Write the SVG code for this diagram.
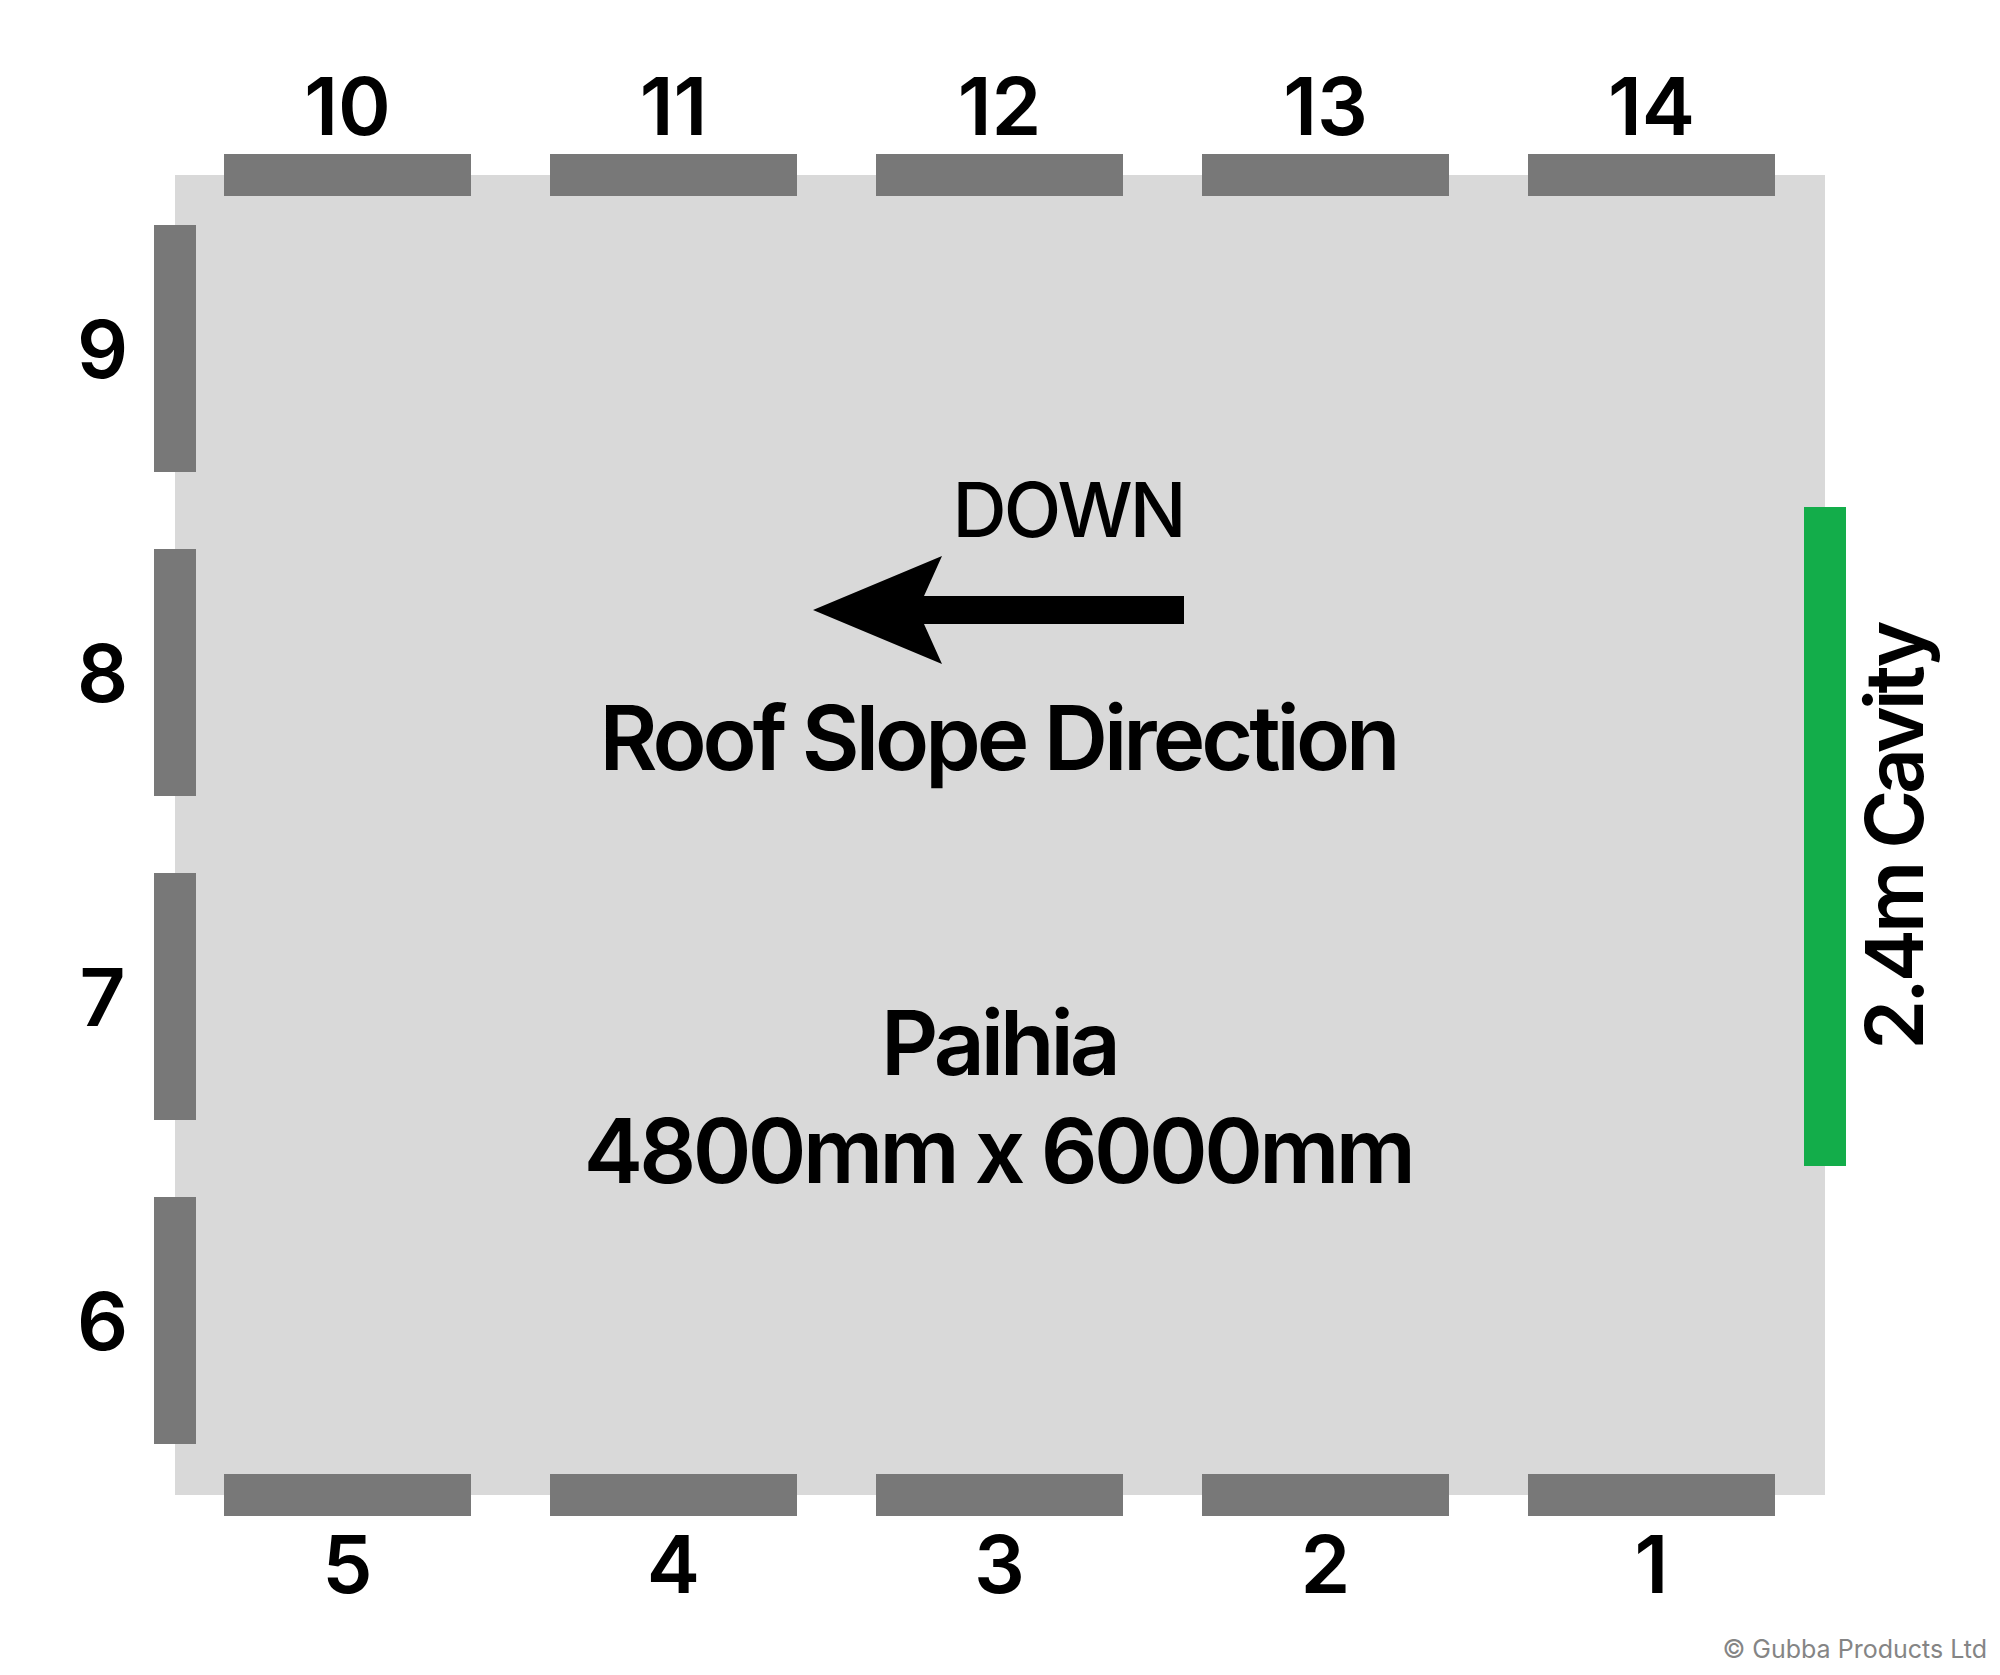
<svg xmlns="http://www.w3.org/2000/svg" width="2000" height="1675" viewBox="0 0 2000 1675">
<style>
.bar{fill:#787878}
.lbl{font-family:Inter,"Liberation Sans",sans-serif;font-weight:600;font-size:80px;fill:#000;text-anchor:middle}
.big{font-family:Inter,"Liberation Sans",sans-serif;font-weight:600;font-size:89px;fill:#000;text-anchor:middle;letter-spacing:-4px}
</style>
<rect width="2000" height="1675" fill="#fff"/>
<g id="roof">
<rect x="175" y="175" width="1650" height="1320" fill="#d9d9d9"/>
</g>
<g id="top-bars">
<g id="b10"><rect class="bar" x="224" y="154" width="247" height="42"/><text class="lbl" x="347.5" y="135">10</text></g>
<g id="b11"><rect class="bar" x="550" y="154" width="247" height="42"/><text class="lbl" x="673.5" y="135">11</text></g>
<g id="b12"><rect class="bar" x="876" y="154" width="247" height="42"/><text class="lbl" x="999.5" y="135">12</text></g>
<g id="b13"><rect class="bar" x="1202" y="154" width="247" height="42"/><text class="lbl" x="1325.5" y="135">13</text></g>
<g id="b14"><rect class="bar" x="1528" y="154" width="247" height="42"/><text class="lbl" x="1651.5" y="135">14</text></g>
</g>
<g id="bottom-bars">
<g id="b5"><rect class="bar" x="224" y="1474" width="247" height="42"/><text class="lbl" x="347.5" y="1593">5</text></g>
<g id="b4"><rect class="bar" x="550" y="1474" width="247" height="42"/><text class="lbl" x="673.5" y="1593">4</text></g>
<g id="b3"><rect class="bar" x="876" y="1474" width="247" height="42"/><text class="lbl" x="999.5" y="1593">3</text></g>
<g id="b2"><rect class="bar" x="1202" y="1474" width="247" height="42"/><text class="lbl" x="1325.5" y="1593">2</text></g>
<g id="b1"><rect class="bar" x="1528" y="1474" width="247" height="42"/><text class="lbl" x="1651.5" y="1593">1</text></g>
</g>
<g id="left-bars">
<g id="b9"><rect class="bar" x="154" y="225" width="42" height="247"/><text class="lbl" x="102.5" y="378">9</text></g>
<g id="b8"><rect class="bar" x="154" y="549" width="42" height="247"/><text class="lbl" x="102.5" y="702">8</text></g>
<g id="b7"><rect class="bar" x="154" y="873" width="42" height="247"/><text class="lbl" x="102.5" y="1026">7</text></g>
<g id="b6"><rect class="bar" x="154" y="1197" width="42" height="247"/><text class="lbl" x="102.5" y="1350">6</text></g>
</g>
<g id="cavity">
<rect x="1804" y="507" width="42" height="659" fill="#13ad4a"/>
<text class="lbl" transform="translate(1923 837) rotate(-90)" x="0" y="0" style="letter-spacing:-4px">2.4m Cavity</text>
</g>
<g id="connectors">
<path d="M1184 596 L924 596 L942 556 L813 610 L942 664 L924 624 L1184 624 Z" fill="#000"/>
</g>
<g id="labels">
<text x="1068" y="537" style="font-family:Inter,'Liberation Sans',sans-serif;font-weight:500;font-size:75px;text-anchor:middle;letter-spacing:-3px">DOWN</text>
<text class="big" x="998" y="770">Roof Slope Direction</text>
<text class="big" x="999" y="1075">Paihia</text>
<text class="big" x="998" y="1183" style="letter-spacing:-3.6px">4800mm x 6000mm</text>
</g>
<text x="1987" y="1658" style="font-family:Inter,'Liberation Sans',sans-serif;font-size:25px;fill:#858585;text-anchor:end">© Gubba Products Ltd</text>
</svg>
